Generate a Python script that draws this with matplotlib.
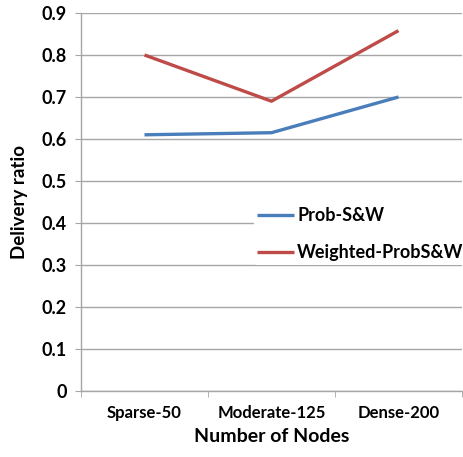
import matplotlib.pyplot as plt
import numpy as np
from matplotlib.ticker import FixedLocator

# data
categories = ["Sparse-50", "Moderate-125", "Dense-200"]
prob_sw = [0.61, 0.615, 0.70]
weighted_prob_sw = [0.80, 0.69, 0.858]
y_ticks = [0, 0.1, 0.2, 0.3, 0.4, 0.5, 0.6, 0.7, 0.8, 0.9]

plt.rcParams["font.family"] = ["Lato", "DejaVu Sans"]

fig = plt.figure(figsize=(4.63, 4.57), dpi=100)
ax = fig.add_axes([81 / 463, 1 - 391 / 457, 381 / 463, 378 / 457])

x = np.arange(len(categories))
ax.plot(x, prob_sw, color="#4A7EBB", lw=2.4, label="Prob-S&W", solid_capstyle="butt")
ax.plot(x, weighted_prob_sw, color="#BE4B48", lw=2.4, label="Weighted-ProbS&W",
        solid_capstyle="butt")

ax.set_xlim(-0.5, len(categories) - 0.5)
ax.set_ylim(0, 0.9)
ax.set_yticks(y_ticks)
ax.set_yticklabels([f"{t:g}" if t else "0" for t in y_ticks])
ax.set_xticks(x)
ax.set_xticklabels(categories)
ax.xaxis.set_minor_locator(FixedLocator([-0.5, 0.5, 1.5, 2.5]))

ax.grid(axis="y", color="#A6A6A6", lw=1)
ax.set_axisbelow(True)
for side in ["top", "right"]:
    ax.spines[side].set_visible(False)
for side in ["left", "bottom"]:
    ax.spines[side].set_color("#A6A6A6")
    ax.spines[side].set_linewidth(1)

ax.tick_params(axis="y", length=4, color="#A6A6A6", labelsize=13, pad=6)
ax.tick_params(axis="x", which="major", length=0, labelsize=12, pad=10)
ax.tick_params(axis="x", which="minor", length=4, color="#A6A6A6")
for lbl in ax.get_yticklabels() + ax.get_xticklabels():
    lbl.set_fontweight("bold")

ax.set_xlabel("Number of Nodes", fontsize=14, fontweight="bold", labelpad=5)
ax.set_ylabel("Delivery ratio", fontsize=13.5, fontweight="bold", labelpad=10)

leg = ax.legend(loc="upper left", bbox_to_anchor=(0.43, 0.52), frameon=True,
                facecolor="white", edgecolor="none", fontsize=13,
                handlelength=2.0, handletextpad=0.2, labelspacing=1.1,
                borderpad=0.2, framealpha=1)
for t in leg.get_texts():
    t.set_fontweight("bold")

fig.savefig("out.png", dpi=100)
